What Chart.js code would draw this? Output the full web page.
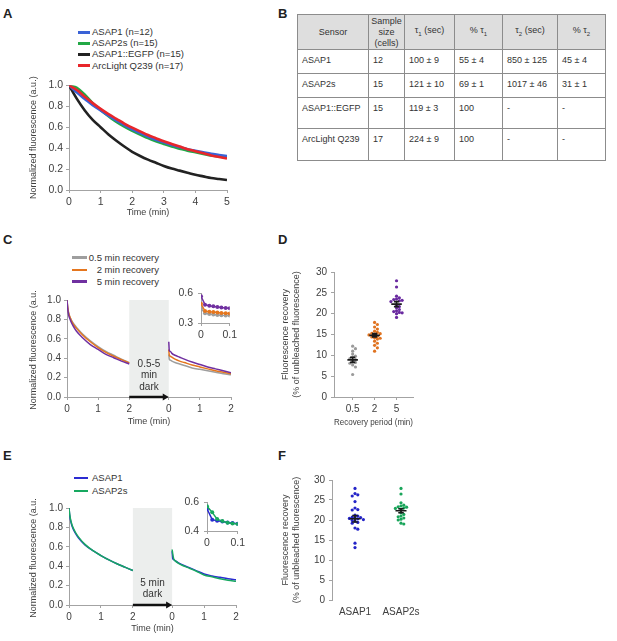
<!DOCTYPE html>
<html>
<head>
<meta charset="utf-8">
<script src="https://cdn.jsdelivr.net/npm/chart.js@4.4.1/dist/chart.umd.min.js"></script>
<style>
  body { margin: 0; background: #fff; font-family: "Liberation Sans", Arial, sans-serif; color: #333; }
  #fig { position: relative; width: 617px; height: 641px; overflow: hidden; }
  #fig canvas { position: absolute; }
  .lbl { position: absolute; font-weight: bold; font-size: 13px; line-height: 13px; color: #222; }
  .sw { position: absolute; height: 2.5px; }
  .lt { position: absolute; font-size: 9.5px; line-height: 11px; color: #333; white-space: nowrap; }
  #tblB { position: absolute; left: 297px; top: 14px; border-collapse: collapse; table-layout: fixed;
          font-size: 9px; color: #333; border: 1.5px solid #7a7a7a; }
  #tblB td, #tblB th { border: 1px solid #8c8c8c; line-height: 11px; font-weight: normal; box-sizing: border-box; }
  #tblB th { background: #dedede; text-align: center; vertical-align: middle; padding: 0; }
  #tblB td { text-align: left; vertical-align: top; padding: 5px 0 0 4px; }
  #tblB sub { font-size: 6px; }
</style>
</head>
<body>
<div id="fig"></div>
<script>
// ---------- data ----------
// A: photobleaching curves (time in min)
const A_TIME = [0, 0.25, 0.5, 0.75, 1, 1.25, 1.5, 1.75, 2, 2.25, 2.5, 2.75, 3, 3.25, 3.5, 3.75, 4, 4.25, 4.5, 4.75, 5];
const A_ASAP1 = [1.0, 0.93, 0.87, 0.81, 0.76, 0.71, 0.665, 0.62, 0.58, 0.545, 0.51, 0.48, 0.455, 0.43, 0.41, 0.39, 0.375, 0.36, 0.345, 0.335, 0.325];
const A_ASAP2S = [1.0, 0.975, 0.91, 0.83, 0.765, 0.705, 0.65, 0.605, 0.565, 0.53, 0.495, 0.465, 0.44, 0.415, 0.395, 0.375, 0.36, 0.345, 0.33, 0.32, 0.31];
const A_EGFP = [1.0, 0.87, 0.76, 0.67, 0.60, 0.53, 0.47, 0.415, 0.365, 0.325, 0.29, 0.26, 0.23, 0.205, 0.185, 0.165, 0.145, 0.13, 0.115, 0.105, 0.095];
const A_ARC = [1.0, 0.955, 0.89, 0.83, 0.775, 0.725, 0.68, 0.635, 0.595, 0.56, 0.525, 0.495, 0.465, 0.44, 0.415, 0.39, 0.37, 0.35, 0.33, 0.315, 0.30];
const A_NAMES = ['ASAP1 (n=12)', 'ASAP2s (n=15)', 'ASAP1::EGFP (n=15)', 'ArcLight Q239 (n=17)'];

// B: table
const B_HEAD = ['Sensor', 'Sample<br>size<br>(cells)', 'τ<sub>1</sub> (sec)', '% τ<sub>1</sub>', 'τ<sub>2</sub> (sec)', '% τ<sub>2</sub>'];
const B_SENSOR = ['ASAP1', 'ASAP2s', 'ASAP1::EGFP', 'ArcLight Q239'];
const B_N = ['12', '15', '15', '17'];
const B_TAU1 = ['100 ± 9', '121 ± 10', '119 ± 3', '224 ± 9'];
const B_PCT1 = ['55 ± 4', '69 ± 1', '100', '100'];
const B_TAU2 = ['850 ± 125', '1017 ± 46', '-', '-'];
const B_PCT2 = ['45 ± 4', '31 ± 1', '-', '-'];

// C: recovery after dark period
const C_T1 = [0, 0.02, 0.05, 0.1, 0.2, 0.3, 0.5, 0.75, 1, 1.25, 1.5, 1.75, 2];
const C_GRAY_1 = [1.0, 0.93, 0.87, 0.82, 0.76, 0.72, 0.65, 0.58, 0.52, 0.47, 0.43, 0.39, 0.355];
const C_ORANGE_1 = [1.0, 0.93, 0.87, 0.82, 0.75, 0.71, 0.64, 0.57, 0.51, 0.46, 0.42, 0.385, 0.35];
const C_PURPLE_1 = [1.0, 0.92, 0.85, 0.80, 0.73, 0.68, 0.61, 0.54, 0.49, 0.44, 0.405, 0.37, 0.34];
const C_T2 = [0, 0.017, 0.05, 0.1, 0.2, 0.35, 0.5, 0.75, 1, 1.25, 1.5, 1.75, 2];
const C_GRAY_2 = [0.44, 0.39, 0.38, 0.37, 0.355, 0.34, 0.325, 0.30, 0.285, 0.27, 0.255, 0.24, 0.23];
const C_ORANGE_2 = [0.49, 0.43, 0.42, 0.41, 0.39, 0.37, 0.355, 0.33, 0.31, 0.29, 0.27, 0.255, 0.24];
const C_PURPLE_2 = [0.57, 0.48, 0.47, 0.45, 0.43, 0.41, 0.39, 0.36, 0.335, 0.31, 0.29, 0.27, 0.25];
const C_NAMES = ['0.5 min recovery', '2 min recovery', '5 min recovery'];
const C_DARK = ['0.5-5', 'min', 'dark'];
const C_IN_T = [0, 0.014, 0.029, 0.043, 0.057, 0.071, 0.086, 0.1];
const C_IN_GRAY = [0.448, 0.398, 0.39, 0.386, 0.382, 0.379, 0.377, 0.375];
const C_IN_ORANGE = [0.494, 0.42, 0.413, 0.41, 0.406, 0.402, 0.399, 0.396];
const C_IN_PURPLE = [0.57, 0.485, 0.475, 0.468, 0.462, 0.457, 0.452, 0.448];

// D: recovery vs period
const D_CATS = ['0.5', '2', '5'];
const D_GRAY = [12.2, 11.6, 11.0, 10.3, 9.8, 9.6, 9.2, 9.0, 8.6, 8.3, 8.1, 7.7, 7.2, 5.4];
const D_ORANGE = [17.9, 17.4, 16.8, 16.3, 15.8, 15.5, 15.3, 15.2, 15.0, 14.9, 14.6, 14.4, 14.2, 14.1, 13.9, 13.4, 12.9, 12.4, 11.8, 11.0];
const D_PURPLE = [27.9, 26.4, 24.2, 23.8, 23.5, 23.4, 23.2, 23.1, 22.9, 22.1, 21.7, 21.4, 21.0, 20.7, 20.5, 20.3, 20.2, 20.0, 19.1];
const D_MEAN = [8.9, 14.8, 22.3];
const D_SEM = [0.6, 0.4, 0.6];

// E: ASAP1 vs ASAP2s recovery
const E_T1 = [0, 0.02, 0.05, 0.1, 0.2, 0.3, 0.5, 0.75, 1, 1.25, 1.5, 1.75, 2];
const E_ASAP1_1 = [1.0, 0.93, 0.87, 0.81, 0.74, 0.69, 0.62, 0.56, 0.51, 0.465, 0.425, 0.39, 0.355];
const E_ASAP2S_1 = [1.0, 0.94, 0.88, 0.82, 0.75, 0.70, 0.625, 0.56, 0.51, 0.465, 0.425, 0.39, 0.355];
const E_T2 = [0, 0.017, 0.05, 0.1, 0.2, 0.35, 0.5, 0.75, 1, 1.25, 1.5, 1.75, 2];
const E_ASAP1_2 = [0.555, 0.48, 0.468, 0.455, 0.435, 0.41, 0.39, 0.355, 0.32, 0.30, 0.285, 0.27, 0.26];
const E_ASAP2S_2 = [0.572, 0.53, 0.475, 0.455, 0.43, 0.405, 0.385, 0.35, 0.31, 0.29, 0.27, 0.255, 0.245];
const E_NAMES = ['ASAP1', 'ASAP2s'];
const E_DARK = ['5 min', 'dark'];
const E_IN_T = [0, 0.017, 0.033, 0.05, 0.067, 0.083, 0.1];
const E_IN_ASAP1 = [0.555, 0.479, 0.472, 0.466, 0.46, 0.455, 0.45];
const E_IN_ASAP2S = [0.572, 0.53, 0.483, 0.469, 0.458, 0.452, 0.448];

// F: recovery per sensor
const F_CATS = ['ASAP1', 'ASAP2s'];
const F_ASAP1 = [27.9, 26.6, 26.3, 26.0, 24.6, 23.0, 22.6, 22.5, 21.2, 21.0, 20.7, 20.6, 20.5, 20.4, 20.3, 20.1, 19.9, 19.7, 19.4, 19.2, 18.0, 17.7, 14.2, 13.1];
const F_ASAP2S = [27.9, 26.5, 24.3, 23.7, 23.5, 23.3, 23.2, 23.0, 22.9, 22.6, 21.8, 21.4, 21.0, 20.8, 20.5, 20.2, 20.0, 19.2, 19.0];
const F_MEAN = [20.3, 22.3];
const F_SEM = [0.8, 0.5];

// ---------- helpers ----------
Chart.defaults.font.family = '"Liberation Sans", Arial, sans-serif';
Chart.defaults.color = '#404040';
const AXIS = '#a3a3a3';
const fig = document.getElementById('fig');

function el(cls, css, html) {
  const d = document.createElement('div');
  d.className = cls;
  d.style.cssText = css;
  if (html !== undefined) d.innerHTML = html;
  fig.appendChild(d);
  return d;
}

function pts(xs, ys, shift) {
  return xs.map((x, i) => ({ x: x + (shift || 0), y: ys[i] }));
}

function scale(o) {
  const s = {
    type: 'linear', min: o.min, max: o.max,
    ticks: Object.assign({ padding: o.pad !== undefined ? o.pad : 3, font: { size: o.size || 10 }, color: '#404040' }, o.ticks || {}),
    grid: { display: o.grid !== false, drawTicks: o.grid !== false, drawOnChartArea: false, color: AXIS, tickLength: 3 },
    border: { display: o.border !== false, color: AXIS, width: 1 },
    title: o.title ? { display: true, text: o.title, font: { size: 9 }, color: '#404040', padding: { top: 4, bottom: 4 } } : { display: false }
  };
  if (o.values) s.afterBuildTicks = sc => { sc.ticks = o.values.map(v => ({ value: v })); };
  return s;
}

// place a chart so that its plot area lands on box {l,t,r,b}
function build(box, yW, xH, cfg) {
  const padTop = 8, padRight = 10;
  const cv = document.createElement('canvas');
  const w = box.r - box.l + yW + padRight;
  const h = box.b - box.t + padTop + xH;
  cv.width = w; cv.height = h;
  cv.style.cssText = `left:${box.l - yW}px;top:${box.t - padTop}px;width:${w}px;height:${h}px`;
  fig.appendChild(cv);
  cfg.options = Object.assign({
    responsive: false, animation: false, devicePixelRatio: 1,
    layout: { padding: { top: padTop, right: padRight, left: 0, bottom: 0 } }
  }, cfg.options || {});
  cfg.options.plugins = Object.assign({ legend: { display: false }, tooltip: { enabled: false } }, cfg.options.plugins || {});
  cfg.options.scales.x.afterFit = s => { s.height = xH; };
  cfg.options.scales.y.afterFit = s => { s.width = yW; };
  return new Chart(cv, cfg);
}

function curve(data, color, width, order) {
  return { data, borderColor: color, backgroundColor: color, borderWidth: width, pointRadius: 0,
           showLine: true, cubicInterpolationMode: 'monotone', order: order || 0, spanGaps: false };
}

function dots(data, color, r) {
  return { data, borderColor: color, backgroundColor: color, borderWidth: 1.5, pointRadius: r,
           pointBorderWidth: 0, showLine: true, tension: 0 };
}

// simple deterministic beeswarm, returns x offsets in px
function swarm(vals, pxPerY, gap) {
  const placed = [], off = new Array(vals.length);
  vals.map((v, i) => i).sort((a, b) => vals[b] - vals[a]).forEach(i => {
    const y = vals[i] * pxPerY;
    for (let k = 0; k < 30; k++) {
      const xs = k === 0 ? [0] : [k * gap, -k * gap];
      const hit = xs.find(x => placed.every(p => (p.x - x) ** 2 + (p.y - y) ** 2 >= gap * gap));
      if (hit !== undefined) { placed.push({ x: hit, y }); off[i] = hit; break; }
    }
  });
  return off;
}

function swarmSet(vals, pos, pxPerX, pxPerY, color) {
  const off = swarm(vals, pxPerY, 2.8);
  return { data: vals.map((v, i) => ({ x: pos + off[i] / pxPerX, y: v })), backgroundColor: color,
           borderColor: color, pointRadius: 1.6, pointBorderWidth: 0, showLine: false, order: 1 };
}

function meanBars(means, sems, half) {
  const p = [];
  means.forEach((m, i) => {
    const c = i + 1, s = sems[i];
    p.push({ x: c - half, y: m }, { x: c + half, y: m }, { x: c, y: null },
           { x: c, y: m - s }, { x: c, y: m + s }, { x: c, y: null },
           { x: c - half / 2, y: m + s }, { x: c + half / 2, y: m + s }, { x: c, y: null },
           { x: c - half / 2, y: m - s }, { x: c + half / 2, y: m - s }, { x: c, y: null });
  });
  return { data: p, borderColor: '#1a1a1a', borderWidth: 1.6, pointRadius: 0, showLine: true, spanGaps: false, order: 0 };
}

// grey "dark" block + arrow between the two recording segments
const darkBox = {
  id: 'darkBox',
  beforeDatasetsDraw(chart, args, o) {
    const { ctx, scales: { x, y } } = chart;
    const x0 = x.getPixelForValue(2), x1 = x.getPixelForValue(2 + o.gap);
    const yt = y.getPixelForValue(1), yb = y.getPixelForValue(0);
    ctx.save();
    ctx.fillStyle = '#eceeed';
    ctx.fillRect(x0, yt, x1 - x0, yb - yt);
    ctx.fillStyle = '#333';
    ctx.font = '10px "Liberation Sans", Arial, sans-serif';
    ctx.textAlign = 'center';
    ctx.textBaseline = 'middle';
    const n = o.text.length;
    o.text.forEach((t, i) => ctx.fillText(t, (x0 + x1) / 2, yb - o.lift - (n - 1 - i) * o.lh));
    ctx.restore();
  },
  afterDatasetsDraw(chart, args, o) {
    const { ctx, scales: { x, y } } = chart;
    const x0 = x.getPixelForValue(2), x1 = x.getPixelForValue(2 + o.gap);
    const yb = y.getPixelForValue(0);
    ctx.save();
    ctx.strokeStyle = '#111';
    ctx.fillStyle = '#111';
    ctx.lineWidth = 2.5;
    ctx.beginPath(); ctx.moveTo(x0, yb); ctx.lineTo(x1 - 5, yb); ctx.stroke();
    ctx.beginPath(); ctx.moveTo(x1, yb); ctx.lineTo(x1 - 6, yb - 3.5); ctx.lineTo(x1 - 6, yb + 3.5); ctx.closePath(); ctx.fill();
    ctx.restore();
  }
};

function legendRow(x1, x2, y, color, text, textX, align) {
  el('sw', `left:${x1}px;top:${y - 1.25}px;width:${x2 - x1}px;background:${color}`);
  if (align === 'right') el('lt', `left:${textX - 100}px;width:100px;text-align:right;top:${y - 6}px`, text);
  else el('lt', `left:${textX}px;top:${y - 6}px`, text);
}

// ---------- panel letters ----------
[['A', 3, 7], ['B', 278, 7], ['C', 3, 233], ['D', 278, 233], ['E', 3, 449], ['F', 278, 449]]
  .forEach(([t, x, y]) => el('lbl', `left:${x}px;top:${y}px`, t));

// ---------- A ----------
const A_COLORS = ['#3a62d6', '#22a845', '#222222', '#e8262a'];
[32.3, 43.3, 54.3, 65.7].forEach((y, i) => legendRow(78, 90, y, A_COLORS[i], A_NAMES[i], 92));
build({ l: 69, t: 84, r: 227, b: 190 }, 45, 32, {
  type: 'scatter',
  data: { datasets: [
    curve(pts(A_TIME, A_ARC), A_COLORS[3], 2.6, 0),
    curve(pts(A_TIME, A_ASAP1), A_COLORS[0], 2.6, 1),
    curve(pts(A_TIME, A_ASAP2S), A_COLORS[1], 2.6, 2),
    curve(pts(A_TIME, A_EGFP), A_COLORS[2], 2.6, 3)
  ] },
  options: { scales: {
    x: scale({ min: 0, max: 5, size: 10.5, title: 'Time (min)', ticks: { stepSize: 1 } }),
    y: scale({ min: 0, max: 1, size: 10.5, title: 'Normalized fluorescence (a.u.)', ticks: { stepSize: 0.2, callback: v => v.toFixed(1) } })
  } }
});

// ---------- B ----------
const B_W = [71, 36, 50, 48, 55, 48];
const B_H = [35, 24, 24, 31, 32];
let html = '<colgroup>' + B_W.map(w => `<col style="width:${w}px">`).join('') + '</colgroup>';
html += `<tr style="height:${B_H[0]}px">` + B_HEAD.map(h => `<th>${h}</th>`).join('') + '</tr>';
B_SENSOR.forEach((s, i) => {
  html += `<tr style="height:${B_H[i + 1]}px">` +
    [s, B_N[i], B_TAU1[i], B_PCT1[i], B_TAU2[i], B_PCT2[i]].map(c => `<td>${c}</td>`).join('') + '</tr>';
});
const tbl = document.createElement('table');
tbl.id = 'tblB';
tbl.style.width = B_W.reduce((a, b) => a + b, 0) + 'px';
tbl.innerHTML = html;
fig.appendChild(tbl);

// ---------- C ----------
const C_COLORS = ['#9e9e9e', '#e5761e', '#7030a0'];
const C_GAP = 1.27;
const cShift = 2 + C_GAP;
[257.7, 270, 281.7].forEach((y, i) => legendRow(72, 87, y, C_COLORS[i], C_NAMES[i], 159, 'right'));
const cSeg = (a, b) => pts(C_T1, a).concat([{ x: 2.5, y: null }], pts(C_T2, b, cShift));
build({ l: 67, t: 299, r: 231, b: 397 }, 43, 34, {
  type: 'scatter',
  data: { datasets: [
    curve(cSeg(C_PURPLE_1, C_PURPLE_2), C_COLORS[2], 1.5, 0),
    curve(cSeg(C_ORANGE_1, C_ORANGE_2), C_COLORS[1], 1.5, 1),
    curve(cSeg(C_GRAY_1, C_GRAY_2), C_COLORS[0], 1.5, 2)
  ] },
  plugins: [darkBox],
  options: {
    plugins: { darkBox: { gap: C_GAP, text: C_DARK, lift: 10, lh: 11.5 } },
    scales: {
      x: scale({ min: 0, max: cShift + 2, title: 'Time (min)', values: [0, 1, 2, cShift, cShift + 1, cShift + 2],
                 ticks: { callback: v => String(Math.round(v <= 2.01 ? v : v - cShift)) } }),
      y: scale({ min: 0, max: 1, title: 'Normalized fluorescence (a.u.)', ticks: { stepSize: 0.2, callback: v => v.toFixed(1) } })
    }
  }
});
build({ l: 201, t: 290, r: 230, b: 323 }, 30, 20, {
  type: 'scatter',
  data: { datasets: [
    dots(pts(C_IN_T, C_IN_PURPLE), C_COLORS[2], 2),
    dots(pts(C_IN_T, C_IN_ORANGE), C_COLORS[1], 2),
    dots(pts(C_IN_T, C_IN_GRAY), C_COLORS[0], 2)
  ] },
  options: { scales: {
    x: scale({ min: 0, max: 0.1, size: 10.5, values: [0, 0.1], ticks: { callback: v => String(v) } }),
    y: scale({ min: 0.3, max: 0.6, size: 10.5, pad: 5, values: [0.3, 0.6], ticks: { callback: v => v.toFixed(1) } })
  } }
});

// ---------- D ----------
const D_COLORS = ['#9a9a9a', '#e07320', '#6a2aa0'];
const dPx = 79 / 3.6, dPy = 127 / 30;
build({ l: 334, t: 270, r: 413, b: 397 }, 58, 35, {
  type: 'scatter',
  data: { datasets: [
    meanBars(D_MEAN, D_SEM, 0.24),
    swarmSet(D_GRAY, 1, dPx, dPy, D_COLORS[0]),
    swarmSet(D_ORANGE, 2, dPx, dPy, D_COLORS[1]),
    swarmSet(D_PURPLE, 3, dPx, dPy, D_COLORS[2])
  ] },
  options: { scales: {
    x: scale({ min: 0.15, max: 3.75, title: 'Recovery period (min)', values: [1, 2, 3],
               ticks: { callback: v => D_CATS[Math.round(v) - 1] } }),
    y: scale({ min: 0, max: 30, pad: 4, title: ['Fluorescence recovery', '(% of unbleached fluorescence)'], ticks: { stepSize: 5 } })
  } }
});

// ---------- E ----------
const E_COLORS = ['#2b2bd1', '#17a860'];
const E_GAP = 1.23;
const eShift = 2 + E_GAP;
[478, 491].forEach((y, i) => legendRow(74, 88, y, E_COLORS[i], E_NAMES[i], 92));
const eSeg = (a, b) => pts(E_T1, a).concat([{ x: 2.5, y: null }], pts(E_T2, b, eShift));
build({ l: 69, t: 507, r: 236, b: 605 }, 45, 33, {
  type: 'scatter',
  data: { datasets: [
    curve(eSeg(E_ASAP2S_1, E_ASAP2S_2), E_COLORS[1], 1.5, 0),
    curve(eSeg(E_ASAP1_1, E_ASAP1_2), E_COLORS[0], 1.5, 1)
  ] },
  plugins: [darkBox],
  options: {
    plugins: { darkBox: { gap: E_GAP, text: E_DARK, lift: 11, lh: 10.5 } },
    scales: {
      x: scale({ min: 0, max: eShift + 2, title: 'Time (min)', values: [0, 1, 2, eShift, eShift + 1, eShift + 2],
                 ticks: { callback: v => String(Math.round(v <= 2.01 ? v : v - eShift)) } }),
      y: scale({ min: 0, max: 1, title: 'Normalized fluorescence (a.u.)', ticks: { stepSize: 0.2, callback: v => v.toFixed(1) } })
    }
  }
});
build({ l: 207, t: 499, r: 238, b: 531 }, 30, 20, {
  type: 'scatter',
  data: { datasets: [
    dots(pts(E_IN_T, E_IN_ASAP2S), E_COLORS[1], 2),
    dots(pts(E_IN_T, E_IN_ASAP1), E_COLORS[0], 2)
  ] },
  options: { scales: {
    x: scale({ min: 0, max: 0.1, size: 10.5, values: [0, 0.1], ticks: { callback: v => String(v) } }),
    y: scale({ min: 0.4, max: 0.6, size: 10.5, pad: 5, values: [0.4, 0.6], ticks: { callback: v => v.toFixed(1) } })
  } }
});

// ---------- F ----------
const F_COLORS = ['#2424c8', '#19a55a'];
const fPx = 46, fPy = 122 / 30;
build({ l: 332, t: 478, r: 424, b: 600 }, 56, 25, {
  type: 'scatter',
  data: { datasets: [
    meanBars(F_MEAN, F_SEM, 0.12),
    swarmSet(F_ASAP1, 1, fPx, fPy, F_COLORS[0]),
    swarmSet(F_ASAP2S, 2, fPx, fPy, F_COLORS[1])
  ] },
  options: { scales: {
    x: scale({ min: 0.5, max: 2.5, grid: false, border: false, pad: 6, values: [1, 2],
               ticks: { callback: v => F_CATS[Math.round(v) - 1] } }),
    y: scale({ min: 0, max: 30, pad: 4, title: ['Fluorescence recovery', '(% of unbleached fluorescence)'], ticks: { stepSize: 5 } })
  } }
});
</script>
</body>
</html>
